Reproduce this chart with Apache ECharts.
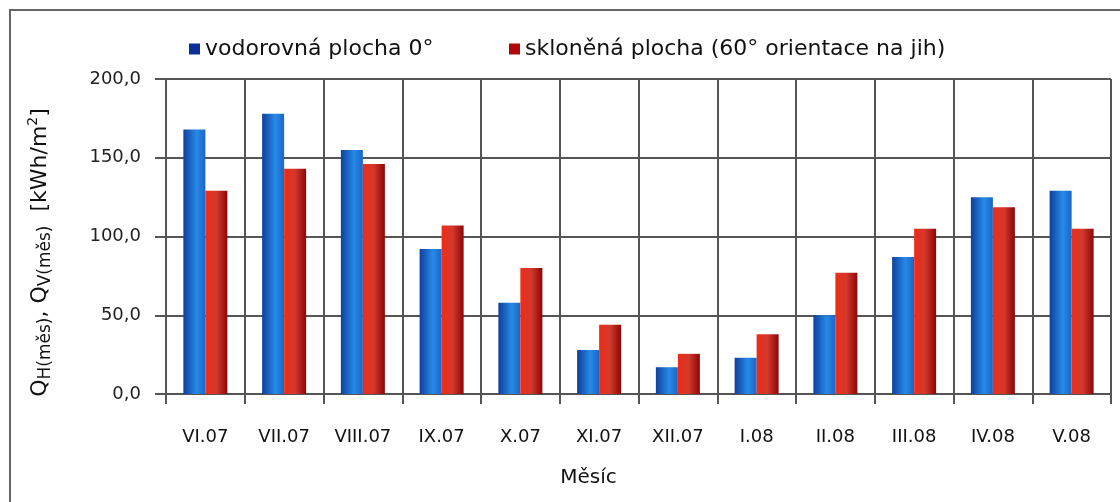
<!DOCTYPE html>
<html>
<head>
<meta charset="utf-8">
<script src="https://cdn.jsdelivr.net/npm/echarts@6/dist/echarts.min.js"></script>
<style>
  html, body { margin: 0; padding: 0; background: #fff; }
  #chart { width: 1120px; height: 502px; }
</style>
</head>
<body>
<div id="chart"></div>
<script>
  let months = ["VI.07", "VII.07", "VIII.07", "IX.07", "X.07", "XI.07", "XII.07", "I.08", "II.08", "III.08", "IV.08", "V.08"];
  let horizontal = [168, 178, 155, 92, 58, 28, 17, 23, 50, 87, 125, 129];
  let inclined = [129, 143, 146, 107, 80, 44, 25.5, 38, 77, 105, 118.5, 105];
  let seriesNames = ["vodorovná plocha 0°", "skloněná plocha (60° orientace na jih)"];
  let yTicks = [0, 50, 100, 150, 200];

  let font = "DejaVu Sans";
  let gridColor = "#555";

  let blueFill = new echarts.graphic.LinearGradient(0, 0, 1, 0, [
    { offset: 0, color: "#0f3f9c" },
    { offset: 0.6, color: "#268ae8" },
    { offset: 1, color: "#1d64c6" }
  ]);
  let redFill = new echarts.graphic.LinearGradient(0, 0, 1, 0, [
    { offset: 0, color: "#ee2c18" },
    { offset: 0.5, color: "#d2392c" },
    { offset: 1, color: "#8c0606" }
  ]);

  let option = {
    animation: false,
    textStyle: { fontFamily: font },
    graphic: [
      {
        type: "rect",
        shape: { x: 10, y: 10, width: 1300, height: 700 },
        style: { fill: "none", stroke: "#666", lineWidth: 2 },
        silent: true
      }
    ],
    legend: [
      {
        left: 184,
        top: 33,
        icon: "rect",
        itemWidth: 11,
        itemHeight: 11,
        itemGap: 6,
        textStyle: { fontFamily: font, fontSize: 22, color: "#111" },
        data: [{ name: seriesNames[0], itemStyle: { color: "#0c2f96" } }]
      },
      {
        left: 504,
        top: 33,
        icon: "rect",
        itemWidth: 11,
        itemHeight: 11,
        itemGap: 6,
        textStyle: { fontFamily: font, fontSize: 22, color: "#111" },
        data: [{ name: seriesNames[1], itemStyle: { color: "#b00808" } }]
      }
    ],
    grid: {
      left: 166,
      right: 9,
      top: 79,
      bottom: 108
    },
    xAxis: {
      type: "category",
      data: months,
      name: "Měsíc",
      nameLocation: "middle",
      nameGap: 74,
      nameTextStyle: { fontFamily: font, fontSize: 20, color: "#111", padding: [0, 100, 0, 0] },
      axisLine: { lineStyle: { color: gridColor, width: 2 } },
      axisTick: { show: true, length: 10, lineStyle: { color: gridColor, width: 2 } },
      axisLabel: { fontFamily: font, fontSize: 18, color: "#111", margin: 34 },
      splitLine: { show: true, lineStyle: { color: gridColor, width: 2 } }
    },
    yAxis: {
      type: "value",
      min: yTicks[0],
      max: yTicks[yTicks.length - 1],
      interval: yTicks[1] - yTicks[0],
      name: "{q|Q}{s|H(měs)}{q|, Q}{s|V(měs)}{q|  [kWh/m}{p|2}{q|]}",
      nameLocation: "middle",
      nameGap: 112,
      nameTextStyle: {
        color: "#111",
        padding: [0, 0, 0, -32],
        rich: {
          q: { fontFamily: font, fontSize: 22, lineHeight: 28, verticalAlign: "middle", color: "#111" },
          s: { fontFamily: font, fontSize: 17, lineHeight: 28, verticalAlign: "bottom", color: "#111" },
          p: { fontFamily: font, fontSize: 14, lineHeight: 28, verticalAlign: "top", color: "#111" }
        }
      },
      axisLine: { show: true, lineStyle: { color: gridColor, width: 2 } },
      axisTick: { show: true, length: 11, lineStyle: { color: gridColor, width: 2 } },
      axisLabel: {
        fontFamily: font,
        fontSize: 18,
        color: "#222",
        margin: 25,
        formatter: function (v) {
          return v.toFixed(1).replace(".", ",");
        }
      },
      splitLine: { lineStyle: { color: gridColor, width: 2 } }
    },
    series: [
      {
        name: seriesNames[0],
        type: "bar",
        data: horizontal,
        barWidth: 22,
        barGap: "0%",
        itemStyle: { color: blueFill }
      },
      {
        name: seriesNames[1],
        type: "bar",
        data: inclined,
        barWidth: 22,
        barGap: "0%",
        itemStyle: { color: redFill }
      }
    ]
  };

  let chart = echarts.init(document.getElementById("chart"));
  chart.setOption(option);
</script>
</body>
</html>
